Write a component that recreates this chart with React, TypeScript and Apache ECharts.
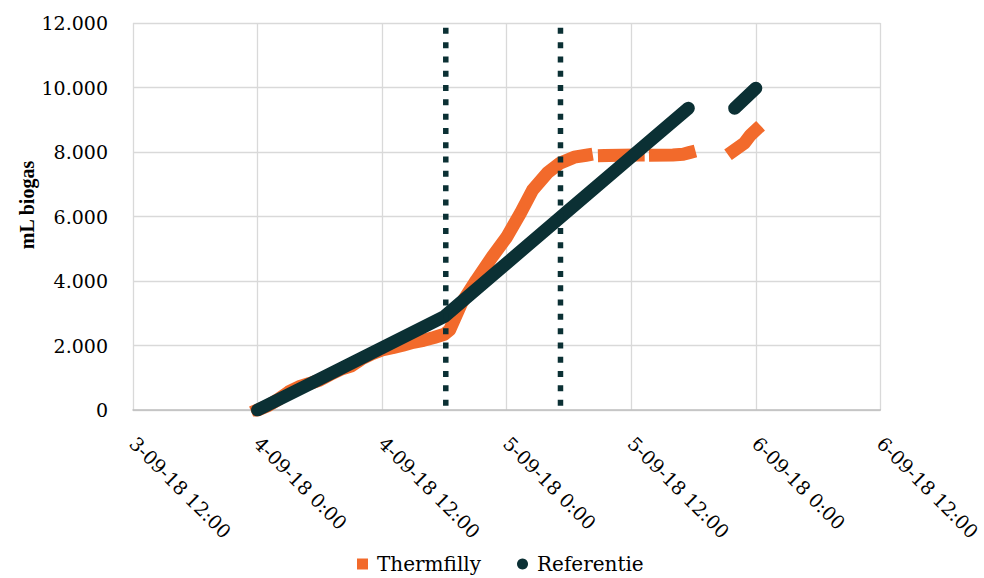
import React, { useEffect, useRef } from 'react';
import * as echarts from 'echarts';

// ---- axis definitions ----
const X_START = '2018-09-03 12:00';
const X_STEP_HOURS = 12;
const xTickLabels = [
  '3-09-18 12:00',
  '4-09-18 0:00',
  '4-09-18 12:00',
  '5-09-18 0:00',
  '5-09-18 12:00',
  '6-09-18 0:00',
  '6-09-18 12:00',
];
const yMin = 0;
const yMax = 12000;
const yStep = 2000;

// ---- series data (null = gap in the recording) ----
const thermfillyTimes = [
  '2018-09-04 00:00', '2018-09-04 01:00', '2018-09-04 02:00', '2018-09-04 03:00',
  '2018-09-04 04:00', '2018-09-04 05:00', '2018-09-04 06:00', '2018-09-04 07:00',
  '2018-09-04 08:00', '2018-09-04 09:00', '2018-09-04 10:00', '2018-09-04 11:00',
  '2018-09-04 12:00', '2018-09-04 13:00', '2018-09-04 14:00', '2018-09-04 15:00',
  '2018-09-04 16:00', '2018-09-04 17:00', '2018-09-04 18:00', '2018-09-04 18:30',
  '2018-09-04 19:40', '2018-09-04 21:05', '2018-09-04 22:35', '2018-09-05 00:00',
  '2018-09-05 01:20', '2018-09-05 02:30', '2018-09-05 03:55', '2018-09-05 05:10',
  '2018-09-05 06:30', '2018-09-05 07:40', '2018-09-05 08:30', '2018-09-05 09:25',
  '2018-09-05 11:00', '2018-09-05 12:40', '2018-09-05 13:35', '2018-09-05 14:20',
  '2018-09-05 16:00', '2018-09-05 17:00', '2018-09-05 17:35', '2018-09-05 20:00',
  '2018-09-05 21:50', '2018-09-05 22:55', '2018-09-05 23:30', '2018-09-06 00:00',
];
const thermfillyValues = [
  0, 130, 330, 560,
  720, 820, 930, 1100,
  1260, 1360, 1580, 1740,
  1860, 1930, 2010, 2100,
  2160, 2250, 2350, 2480,
  3320, 4030, 4740, 5360,
  6110, 6820, 7350, 7660,
  7840, 7900, null, 7890,
  7900, 7905, null, 7900,
  7910, 7930, 7980, null,
  8030, 8280, 8530, 8680,
];

const referentieTimes = [
  '2018-09-04 00:00', '2018-09-04 06:00', '2018-09-04 12:00', '2018-09-04 18:00',
  '2018-09-05 00:00', '2018-09-05 06:00', '2018-09-05 12:00', '2018-09-05 17:30',
  '2018-09-05 20:00', '2018-09-05 21:58', '2018-09-06 00:00',
];
const referentieValues = [
  0, 960, 1930, 2900,
  4550, 6200, 7850, 9355,
  null, 9355, 9975,
];

// vertical dotted reference lines
const markerTimes = ['2018-09-04 18:08', '2018-09-05 05:11'];
const markerRange = [11850, -110];

const ORANGE = '#f26a2b';
const DARK = '#0b3034';

const toMs = (s: string) => {
  const [d, t] = s.split(' ');
  const [Y, M, D] = d.split('-').map(Number);
  const [h, m] = t.split(':').map(Number);
  return Date.UTC(Y, M - 1, D, h, m);
};

const pairs = (times: string[], values: (number | null)[]) =>
  times.map((t, i) => [toMs(t), values[i] === null ? '-' : values[i]]);

const fmtThousands = (v: number) =>
  String(v).replace(/\B(?=(\d{3})+(?!\d))/g, '.');

export default function App() {
  const ref = useRef<HTMLDivElement>(null);

  useEffect(() => {
    if (!ref.current) return;
    const chart = echarts.init(ref.current, undefined, { renderer: 'svg' });
    const xMin = toMs(X_START);
    const xStep = X_STEP_HOURS * 3600 * 1000;
    const xMax = xMin + xStep * (xTickLabels.length - 1);

    const markerSeries = markerTimes.map((t, i) => ({
      name: 'marker' + i,
      type: 'line',
      data: markerRange.map((v) => [toMs(t), v]),
      symbol: 'none',
      clip: false,
      silent: true,
      z: 5,
      lineStyle: { color: DARK, width: 5.5, type: [6, 8.3], cap: 'butt' },
    }));

    chart.setOption({
      animation: false,
      grid: { left: 133, right: 102.5, top: 23, bottom: 168, containLabel: false },
      xAxis: {
        type: 'value',
        min: xMin,
        max: xMax,
        interval: xStep,
        axisLine: { show: true, lineStyle: { color: '#bfbfbf', width: 1.5 } },
        axisTick: { show: false },
        splitLine: { show: true, lineStyle: { color: '#d9d9d9', width: 1.3 } },
        axisLabel: {
          rotate: -45,
          margin: 30,
          color: '#000',
          fontFamily: 'DejaVu Serif',
          fontSize: 19,
          formatter: (v: number) => xTickLabels[Math.round((v - xMin) / xStep)] ?? '',
        },
      },
      yAxis: {
        type: 'value',
        min: yMin,
        max: yMax,
        interval: yStep,
        axisLine: { show: false },
        axisTick: { show: false },
        splitLine: { show: true, lineStyle: { color: '#d9d9d9', width: 1.3 } },
        axisLabel: {
          margin: 25,
          color: '#000',
          fontFamily: 'DejaVu Serif',
          fontSize: 19,
          formatter: (v: number) => fmtThousands(v),
        },
      },
      legend: {
        data: [
          { name: 'Thermfilly', icon: 'rect' },
          { name: 'Referentie', icon: 'circle' },
        ],
        left: 357,
        top: 550,
        padding: 0,
        itemWidth: 11,
        itemHeight: 11,
        itemGap: 36,
        textStyle: {
          color: '#000',
          fontFamily: 'DejaVu Serif',
          fontSize: 20,
          lineHeight: 28,
          padding: [0, 0, 0, 4],
        },
      },
      graphic: [
        {
          type: 'text',
          x: 27,
          y: 205,
          rotation: Math.PI / 2,
          style: {
            text: 'mL biogas',
            align: 'center',
            verticalAlign: 'middle',
            font: 'bold 20px "Liberation Serif"',
            fill: '#000',
          },
        },
      ],
      series: [
        {
          name: 'Thermfilly',
          type: 'line',
          data: pairs(thermfillyTimes, thermfillyValues),
          symbol: 'none',
          connectNulls: false,
          z: 2,
          itemStyle: { color: ORANGE },
          lineStyle: { color: ORANGE, width: 13, cap: 'square', join: 'round' },
        },
        {
          name: 'Referentie',
          type: 'line',
          data: pairs(referentieTimes, referentieValues),
          symbol: 'none',
          connectNulls: false,
          z: 3,
          itemStyle: { color: DARK },
          lineStyle: { color: DARK, width: 13, cap: 'round', join: 'round' },
        },
        ...markerSeries,
      ],
    });
    return () => chart.dispose();
  }, []);

  return (
    <div
      ref={ref}
      style={{ position: 'fixed', left: 0, top: 0, width: 984, height: 578, background: '#fff' }}
    />
  );
}
